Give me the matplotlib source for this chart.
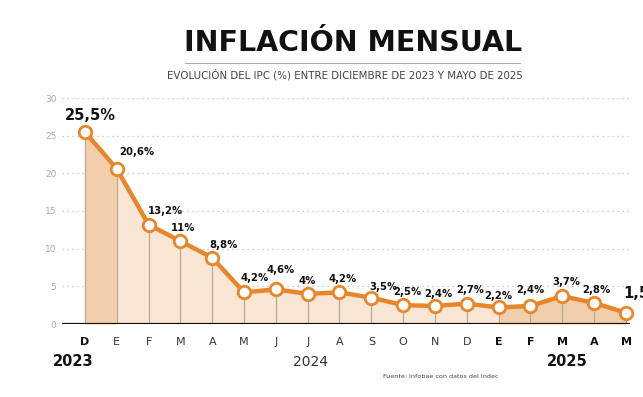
import matplotlib
matplotlib.use("Agg")
import matplotlib.pyplot as plt
import numpy as np

months = ["D", "E", "F", "M", "A", "M", "J", "J", "A", "S", "O", "N", "D", "E", "F", "M", "A", "M"]
values = [25.5, 20.6, 13.2, 11, 8.8, 4.2, 4.6, 4, 4.2, 3.5, 2.5, 2.4, 2.7, 2.2, 2.4, 3.7, 2.8, 1.5]
labels = ["25,5%", "20,6%", "13,2%", "11%", "8,8%", "4,2%", "4,6%", "4%", "4,2%", "3,5%",
          "2,5%", "2,4%", "2,7%", "2,2%", "2,4%", "3,7%", "2,8%", "1,5%"]
bold_months = [True, False, False, False, False, False, False, False, False, False,
               False, False, False, True, True, True, True, True]
years = ["2023", "2024", "2025"]
yticks = [0, 5, 10, 15, 20, 25, 30]

W, H = 643, 397
fig = plt.figure(figsize=(W / 100, H / 100), dpi=100)
fig.patch.set_facecolor("white")

def fx(px):
    return px / W

def fy(py):
    return 1 - py / H

ax = fig.add_axes([fx(62), fy(324), (630 - 62) / W, (324 - 98) / H])
x = np.arange(len(values))
ax.set_xlim(-0.72, 17.13)
ax.set_ylim(0, 30)

orange = "#E8862A"
light = "#F9E6D5"
dark = "#F2CFAC"

# fills
ax.fill_between(x, values, 0, color=light, lw=0, zorder=1)
ax.fill_between(x[:2], values[:2], 0, color=dark, lw=0, zorder=1.1)
ax.fill_between(x[13:], values[13:], 0, color=dark, lw=0, zorder=1.1)

# vertical lines
for xi, v in zip(x, values):
    ax.plot([xi, xi], [0, v], color="#BBA996", lw=0.9, zorder=1.5)

# grid
for t in yticks[1:]:
    ax.axhline(t, color="#BDBDBD", lw=0.9, ls=(0, (1, 3)), zorder=0.5)

ax.axhline(0, color="#111111", lw=1.6, zorder=3)

ax.plot(x, values, color=orange, lw=3.2, zorder=4, solid_capstyle="round")
ax.plot(x, values, ls="none", marker="o", ms=9, mfc="white", mec=orange, mew=2, zorder=5, clip_on=False)

for s in ax.spines.values():
    s.set_visible(False)
ax.set_xticks([])
ax.set_yticks(yticks)
ax.tick_params(axis="y", length=0, pad=4, labelsize=6.5, labelcolor="#A8A8A8")

offsets = [(5, 9), (20, 12), (17, 9), (3, 8), (11, 8), (11, 9), (5, 14), (0, 8), (3, 8), (12, 6),
           (4, 8), (3, 7), (3, 9), (0, 6), (0, 11), (4, 9), (2, 8), (18, 12)]
for i, (xi, v, lab) in enumerate(zip(x, values, labels)):
    dx, dy = offsets[i]
    big = i == 0 or i == len(values) - 1
    ax.annotate(lab, (xi, v), xytext=(dx, dy), textcoords="offset pixels",
                ha="center", va="bottom", fontsize=10.5 if big else 7.3,
                fontweight="bold", color="#111111", family="DejaVu Sans",
                annotation_clip=False, zorder=6)

# month labels
for xi, m, b in zip(x, months, bold_months):
    fig.text(fx(85 + xi * (541 / 17)), fy(342), m, ha="center", va="center",
             fontsize=8, fontweight="bold" if b else "normal",
             color="#111111" if b else "#333333")

fig.text(fx(73), fy(362), years[0], ha="center", va="center", fontsize=10.5, fontweight="bold", color="#111111")
fig.text(fx(311), fy(362), years[1], ha="center", va="center", fontsize=10, color="#333333")
fig.text(fx(567), fy(362), years[2], ha="center", va="center", fontsize=10.5, fontweight="bold", color="#111111")

fig.text(fx(441), fy(377), "Fuente: Infobae con datos del Indec", ha="center", va="center",
         fontsize=4.6, color="#444444")

# title
fig.text(fx(353), fy(43), "INFLACIÓN MENSUAL", ha="center", va="center", fontsize=20.5,
         fontweight="bold", color="#111111")
fig.add_artist(plt.Line2D([fx(185), fx(520)], [fy(63), fy(63)], color="#AAAAAA", lw=0.7))
fig.text(fx(345), fy(75), "EVOLUCIÓN DEL IPC (%) ENTRE DICIEMBRE DE 2023 Y MAYO DE 2025",
         ha="center", va="center", fontsize=7.4, color="#444444")

fig.savefig("out.png", dpi=100, facecolor="white")
